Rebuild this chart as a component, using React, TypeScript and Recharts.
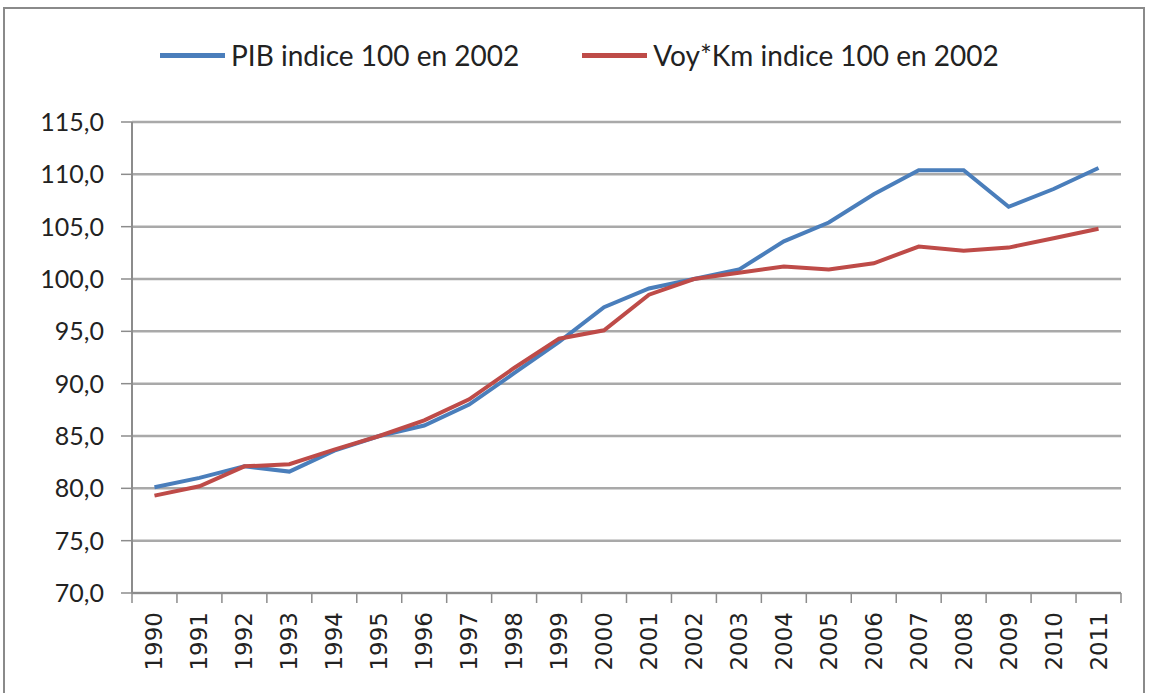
import { LineChart, Line, XAxis, YAxis, CartesianGrid } from 'recharts'

const years = [
  '1990', '1991', '1992', '1993', '1994', '1995', '1996', '1997', '1998', '1999', '2000',
  '2001', '2002', '2003', '2004', '2005', '2006', '2007', '2008', '2009', '2010', '2011',
]
const pib = [
  80.1, 81.0, 82.1, 81.6, 83.6, 85.0, 86.0, 88.0, 91.0, 94.0, 97.3,
  99.1, 100.0, 100.9, 103.6, 105.4, 108.1, 110.4, 110.4, 106.9, 108.6, 110.6,
]
const voyKm = [
  79.3, 80.2, 82.1, 82.3, 83.7, 85.0, 86.5, 88.5, 91.5, 94.3, 95.1,
  98.5, 100.0, 100.6, 101.2, 100.9, 101.5, 103.1, 102.7, 103.0, 103.9, 104.8,
]
const yTicks = [70, 75, 80, 85, 90, 95, 100, 105, 110, 115]
const seriesNames = ['PIB indice 100 en 2002', 'Voy*Km indice 100 en 2002']

const data = years.map((year, i) => ({ year, pib: pib[i], voyKm: voyKm[i] }))

const BLUE = '#4A7EBB'
const RED = '#BE4B48'
const GRID = '#A9A9A9'
const AXIS = '#8C8C8C'

const W = 1150
const H = 693
const PLOT_LEFT = 132
const PLOT_RIGHT = 1121
const PLOT_TOP = 122
const PLOT_BOTTOM = 593
const band = (PLOT_RIGHT - PLOT_LEFT) / years.length

function YearTick(props: any) {
  const { x, y, payload, index } = props
  return (
    <g>
      <line x1={x - band / 2} x2={x - band / 2} y1={PLOT_BOTTOM} y2={PLOT_BOTTOM + 10} stroke={AXIS} strokeWidth={1.5} />
      {index === years.length - 1 && (
        <line x1={x + band / 2} x2={x + band / 2} y1={PLOT_BOTTOM} y2={PLOT_BOTTOM + 10} stroke={AXIS} strokeWidth={1.5} />
      )}
      <text
        x={x}
        y={y}
        transform={`rotate(-90 ${x} ${y})`}
        textAnchor="end"
        dominantBaseline="central"
        fontFamily="DejaVu Sans"
        fontSize={23}
        fill="#222"
      >
        {payload.value}
      </text>
    </g>
  )
}

export default function App() {
  return (
    <div style={{ position: 'absolute', left: 0, top: 0, width: W, height: H, background: '#fff', overflow: 'hidden' }}>
      <div
        style={{
          position: 'absolute',
          left: 3,
          top: 7,
          width: W - 8,
          height: H,
          border: '2px solid #8a8a8a',
          boxSizing: 'border-box',
        }}
      />
      <div
        style={{
          position: 'absolute',
          top: 38,
          left: 160,
          display: 'flex',
          gap: 63,
          fontFamily: 'Lato, sans-serif',
          fontSize: 28,
          color: '#222',
          whiteSpace: 'nowrap',
        }}
      >
        {seriesNames.map((name, i) => (
          <div key={name} style={{ display: 'flex', alignItems: 'center' }}>
            <span style={{ display: 'inline-block', width: 65, height: 5, background: i === 0 ? BLUE : RED, marginRight: 6 }} />
            <span>{name}</span>
          </div>
        ))}
      </div>
      <LineChart
        width={W}
        height={H}
        data={data}
        margin={{ top: PLOT_TOP, right: W - PLOT_RIGHT, left: 0, bottom: 0 }}
        style={{ position: 'absolute', left: 0, top: 0 }}
      >
        <CartesianGrid vertical={false} stroke={GRID} strokeWidth={2.5} />
        <XAxis
          dataKey="year"
          height={H - PLOT_BOTTOM}
          interval={0}
          padding={{ left: band / 2, right: band / 2 }}
          tickLine={false}
          axisLine={{ stroke: AXIS, strokeWidth: 2 }}
          tick={<YearTick />}
          tickMargin={13}
        />
        <YAxis
          width={PLOT_LEFT}
          domain={[70, 115]}
          ticks={yTicks}
          interval={0}
          axisLine={{ stroke: AXIS, strokeWidth: 2 }}
          tickLine={{ stroke: AXIS, strokeWidth: 1.5 }}
          tickSize={11}
          tickMargin={17}
          tickFormatter={(v: number) => v.toFixed(1).replace('.', ',')}
          tick={{ fill: '#222', fontSize: 25, fontFamily: 'Lato, sans-serif' }}
        />
        <Line
          type="linear"
          dataKey="pib"
          stroke={BLUE}
          strokeWidth={4}
          dot={false}
          isAnimationActive={false}
        />
        <Line
          type="linear"
          dataKey="voyKm"
          stroke={RED}
          strokeWidth={4}
          dot={false}
          isAnimationActive={false}
        />
      </LineChart>
    </div>
  )
}
